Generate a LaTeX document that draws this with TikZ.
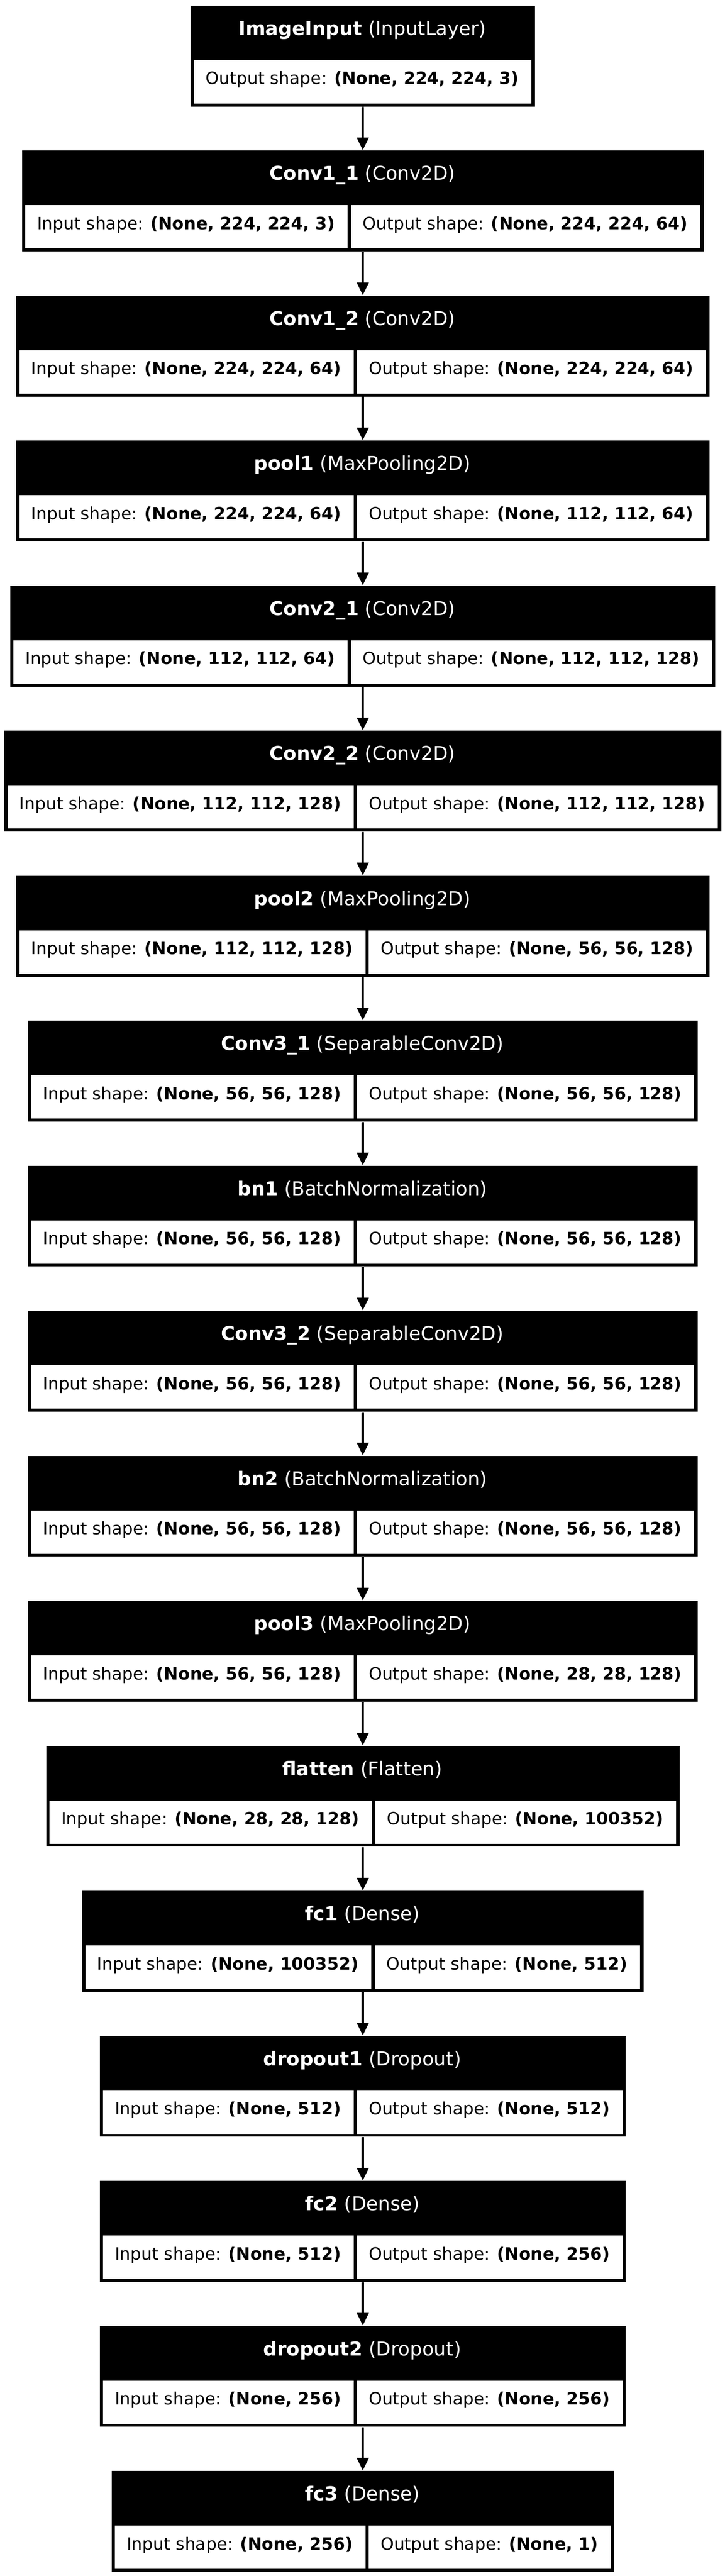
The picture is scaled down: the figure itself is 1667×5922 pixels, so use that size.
\documentclass[tikz,border=0pt]{standalone}
\usepackage{fontspec}
\setmainfont{DejaVu Sans}
\usetikzlibrary{arrows.meta}
\newlength\cellwa
\newlength\cellwb
\newcommand\cellfont{\fontsize{7.8pt}{9pt}\selectfont}
\newcommand\titlefont{\fontsize{8.8pt}{10.5pt}\selectfont}
\newcommand\cellpad{56}
\tikzset{
  pxunits/.style={x=0.2pt,y=-0.2pt},
  layerbg/.style={fill=black, draw=none, inner sep=0pt, rectangle, anchor=north west},
  cellbg/.style={fill=white, draw=none, inner sep=0pt, rectangle, anchor=north west},
  titletext/.style={text=white, inner sep=0pt, anchor=base, font=\titlefont},
  celltext/.style={text=black, inner sep=0pt, anchor=base, font=\cellfont},
  flow/.style={line width=1pt, -{Triangle[length=5.8pt,width=5.4pt]}},
}
\makeatletter
% measuring (outside the picture)
\newcommand\measuretwo[6]{%
  \settowidth\cellwa{\cellfont Input shape: \textbf{#5}}%
  \settowidth\cellwb{\cellfont Output shape: \textbf{#6}}%
  \expandafter\xdef\csname wa@#1\endcsname{\strip@pt\cellwa}%
  \expandafter\xdef\csname wb@#1\endcsname{\strip@pt\cellwb}%
}
\newcommand\measureone[5]{%
  \settowidth\cellwb{\cellfont Output shape: \textbf{#5}}%
  \expandafter\xdef\csname wb@#1\endcsname{\strip@pt\cellwb}%
}
\makeatother
% drawing: #1 id, #2 index, #3 name, #4 class, #5 input, #6 output
\newcommand\drawtwo[6]{%
  \pgfmathsetmacro\cwl{\csname wa@#1\endcsname/0.2+\cellpad}%
  \pgfmathsetmacro\cwr{\csname wb@#1\endcsname/0.2+\cellpad}%
  \pgfmathsetmacro\cwW{\cwl+\cwr+24}%
  \pgfmathsetmacro\cT{11.6+#2*333.4}%
  \pgfmathsetmacro\cX{833.5-\cwW/2}%
  \node[layerbg, minimum width=\cwW*0.2pt, minimum height=232*0.2pt] (#1) at (\cX,\cT) {};
  \node[cellbg, minimum width=\cwl*0.2pt, minimum height=99.6*0.2pt] (#1-in) at (\cX+8,\cT+125.7) {};
  \node[cellbg, minimum width=\cwr*0.2pt, minimum height=99.6*0.2pt] (#1-out) at (\cX+16+\cwl,\cT+125.7) {};
  \node[titletext] (#1-title) at (833.5,\cT+69.3) {\textbf{#3} #4};
  \node[celltext] (#1-intext) at (\cX+8+\cwl/2,\cT+182.5) {Input shape: \textbf{#5}};
  \node[celltext] (#1-outtext) at (\cX+16+\cwl+\cwr/2,\cT+182.5) {Output shape: \textbf{#6}};
}
% #1 id, #2 index, #3 name, #4 class, #5 output
\newcommand\drawone[5]{%
  \pgfmathsetmacro\cwr{\csname wb@#1\endcsname/0.2+\cellpad}%
  \pgfmathsetmacro\cwW{\cwr+16}%
  \pgfmathsetmacro\cT{11.6+#2*333.4}%
  \pgfmathsetmacro\cX{833.5-\cwW/2}%
  \node[layerbg, minimum width=\cwW*0.2pt, minimum height=232*0.2pt] (#1) at (\cX,\cT) {};
  \node[cellbg, minimum width=\cwr*0.2pt, minimum height=99.6*0.2pt] (#1-out) at (\cX+8,\cT+125.7) {};
  \node[titletext] (#1-title) at (833.5,\cT+69.3) {\textbf{#3} #4};
  \node[celltext] (#1-outtext) at (\cX+8+\cwr/2,\cT+182.5) {Output shape: \textbf{#5}};
}
\newcommand\alllayers{%
\onelayer{L0}{0}{ImageInput}{(InputLayer)}{(None, 224, 224, 3)}%
\twolayer{L1}{1}{Conv1\_1}{(Conv2D)}{(None, 224, 224, 3)}{(None, 224, 224, 64)}%
\twolayer{L2}{2}{Conv1\_2}{(Conv2D)}{(None, 224, 224, 64)}{(None, 224, 224, 64)}%
\twolayer{L3}{3}{pool1}{(MaxPooling2D)}{(None, 224, 224, 64)}{(None, 112, 112, 64)}%
\twolayer{L4}{4}{Conv2\_1}{(Conv2D)}{(None, 112, 112, 64)}{(None, 112, 112, 128)}%
\twolayer{L5}{5}{Conv2\_2}{(Conv2D)}{(None, 112, 112, 128)}{(None, 112, 112, 128)}%
\twolayer{L6}{6}{pool2}{(MaxPooling2D)}{(None, 112, 112, 128)}{(None, 56, 56, 128)}%
\twolayer{L7}{7}{Conv3\_1}{(SeparableConv2D)}{(None, 56, 56, 128)}{(None, 56, 56, 128)}%
\twolayer{L8}{8}{bn1}{(BatchNormalization)}{(None, 56, 56, 128)}{(None, 56, 56, 128)}%
\twolayer{L9}{9}{Conv3\_2}{(SeparableConv2D)}{(None, 56, 56, 128)}{(None, 56, 56, 128)}%
\twolayer{L10}{10}{bn2}{(BatchNormalization)}{(None, 56, 56, 128)}{(None, 56, 56, 128)}%
\twolayer{L11}{11}{pool3}{(MaxPooling2D)}{(None, 56, 56, 128)}{(None, 28, 28, 128)}%
\twolayer{L12}{12}{flatten}{(Flatten)}{(None, 28, 28, 128)}{(None, 100352)}%
\twolayer{L13}{13}{fc1}{(Dense)}{(None, 100352)}{(None, 512)}%
\twolayer{L14}{14}{dropout1}{(Dropout)}{(None, 512)}{(None, 512)}%
\twolayer{L15}{15}{fc2}{(Dense)}{(None, 512)}{(None, 256)}%
\twolayer{L16}{16}{dropout2}{(Dropout)}{(None, 256)}{(None, 256)}%
\twolayer{L17}{17}{fc3}{(Dense)}{(None, 256)}{(None, 1)}%
}
\begin{document}
\let\twolayer\measuretwo
\let\onelayer\measureone
\alllayers
\begin{tikzpicture}[pxunits]
\let\twolayer\drawtwo
\let\onelayer\drawone
\useasboundingbox[fill=white] (0,0) rectangle (1667,5922);
\alllayers
\foreach \a [evaluate=\a as \b using int(\a+1)] in {0,...,16} {
  \draw[flow] (L\a.south) -- (L\b.north);
}
\end{tikzpicture}
\end{document}
